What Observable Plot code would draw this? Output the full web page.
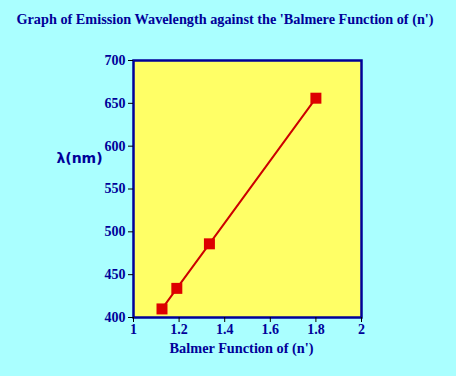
<!DOCTYPE html>
<html>
<head>
<meta charset="utf-8">
<script src="https://cdn.jsdelivr.net/npm/d3@7"></script>
<script src="https://cdn.jsdelivr.net/npm/@observablehq/plot@0.6"></script>
<style>
  html, body { margin: 0; padding: 0; background: #aaffff; }
  #wrap { width: 456px; height: 376px; background: #aaffff; overflow: hidden; }
  #title { height: 38px; line-height: 38px; text-align: center; padding-right: 6px; font-family: "Liberation Serif", "Times New Roman", "DejaVu Serif", serif; font-weight: bold; font-size: 14.25px; color: #000099; }
  svg { display: block; }
  svg text { font-family: "Liberation Serif", "Times New Roman", "DejaVu Serif", serif; }
  svg .sans text, svg text.sans { font-family: "DejaVu Sans", sans-serif; }
</style>
</head>
<body>
<div id="wrap">
  <div id="title">Graph of Emission Wavelength against the 'Balmere Function of (n')</div>
  <div id="chart"></div>
</div>
<script>
const balmerFunction = [1.8, 1.333, 1.19, 1.125];
const wavelength = [656, 486, 434, 410];
const xTicks = [1, 1.2, 1.4, 1.6, 1.8, 2];
const yTicks = [400, 450, 500, 550, 600, 650, 700];
const xLabel = "Balmer Function of (n')";
const yLabel = "λ(nm)";

const data = balmerFunction.map((b, i) => ({b, w: wavelength[i]}));
const blue = "#000099";

const plot = Plot.plot({
  width: 456,
  height: 338,
  marginLeft: 133,
  marginRight: 95,
  marginTop: 22,
  marginBottom: 59,
  style: {background: "#aaffff", fontWeight: "bold", fontSize: "14px", color: blue},
  x: {domain: [1, 2]},
  y: {domain: [400, 700]},
  marks: [
    Plot.frame({fill: "#ffff66", stroke: blue, strokeWidth: 2.5}),
    Plot.axisX({ticks: xTicks, tickFormat: d => String(d), tickSize: 5, stroke: "black", fill: blue, tickPadding: 2, fontSize: 14, fontWeight: "bold", label: null}),
    Plot.axisY({ticks: yTicks, tickSize: 5, stroke: "black", fill: blue, tickPadding: 3, fontSize: 14, fontWeight: "bold", label: null}),
    Plot.text([xLabel], {frameAnchor: "bottom", dx: -6, dy: 35, fill: blue, fontSize: 14.3, fontWeight: "bold"}),
    Plot.text([yLabel], {frameAnchor: "left", dx: -54, dy: -30, fill: blue, fontSize: 14, fontWeight: "bold", textAnchor: "middle", className: "sans"}),
    Plot.line(data, {x: "b", y: "w", stroke: "#cc0000", strokeWidth: 2, sort: "b"}),
    Plot.dot(data, {x: "b", y: "w", symbol: "square", r: 6.2, fill: "#dd0000", stroke: "none"})
  ]
});
document.getElementById("chart").appendChild(plot);
</script>
</body>
</html>
